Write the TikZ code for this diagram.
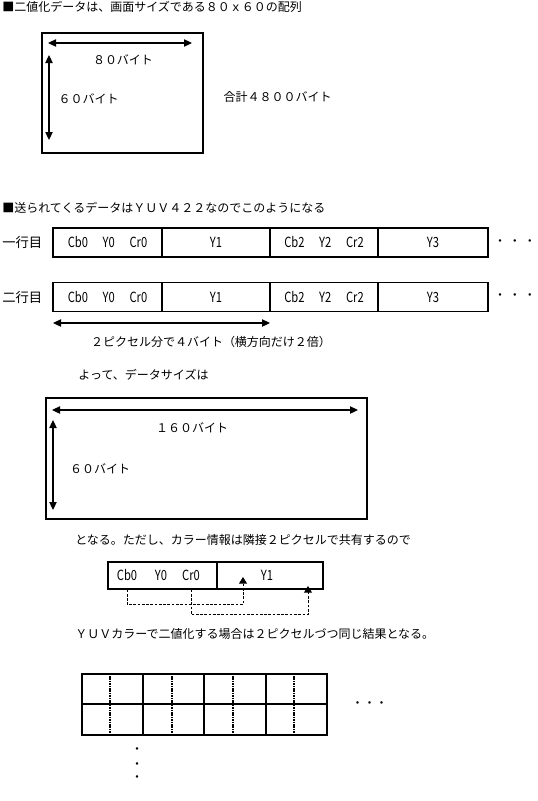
\documentclass[tikz,border=0pt]{standalone}
\usepackage{fontspec}
\setmainfont{Noto Sans CJK JP}
\newfontfamily\latf[FakeStretch=0.8]{Noto Sans CJK JP}
\usetikzlibrary{arrows.meta}
\newcommand\jpf{\fontsize{9pt}{10.5pt}\selectfont}
\newcommand\latsz{\latf\fontsize{10.5pt}{12pt}\selectfont}
\begin{document}
\begin{tikzpicture}[x=0.75pt,y=-0.75pt,
  txt/.style={inner sep=0pt, font=\jpf},
  lat/.style={inner sep=0pt, font=\latsz},
  box/.style={draw, line width=0.9pt, inner sep=0pt},
  cell/.style={draw, line width=0.9pt, inner sep=0pt, minimum height=29*0.75pt, font=\latsz},
  dim/.style={line width=0.8pt, {Triangle[width=5.5pt,length=6pt]}-{Triangle[width=5.5pt,length=6pt]}},
  link/.style={line width=0.7pt, dash pattern=on 2pt off 1.2pt, -{Triangle[width=6pt,length=5pt]}},
  half/.style={line width=0.9pt, dash pattern=on 1.2pt off 0.6pt}]
\useasboundingbox (0,0) rectangle (537,801);

% --- section 1
\node[txt, anchor=west] (t1) at (2,7) {■二値化データは、画面サイズである８０ｘ６０の配列};
\node[box, minimum width=161*0.75pt, minimum height=120*0.75pt] (b1) at (122.5,93) {};
\coordinate (h1a) at (48,43);
\coordinate (h1b) at (192,43);
\coordinate (v1a) at (49,55);
\coordinate (v1b) at (49,140);
\draw[dim] (h1a) -- (h1b);
\draw[dim] (v1a) -- (v1b);
\node[txt] (l80) at (123,60) {８０バイト};
\node[txt] (l60a) at (88.5,99) {６０バイト};
\node[txt] (tot) at (277.5,97) {合計４８００バイト};

% --- section 2
\node[txt, anchor=west] (t2) at (2,208) {■送られてくるデータはＹＵＶ４２２なのでこのようになる};
\foreach \k/\yy/\lab in {1/242.5/一行目, 2/297/二行目}{
  \node[txt, anchor=west, font=\fontsize{10pt}{12pt}\selectfont] (lab\k) at (2,\yy) {\lab};
  \node[cell, minimum width=109*0.75pt] (r\k a) at (107.5,\yy) {Cb0\hspace{11pt}Y0\hspace{11pt}Cr0};
  \node[cell, minimum width=108*0.75pt] (r\k b) at (216,\yy) {Y1};
  \node[cell, minimum width=108*0.75pt] (r\k c) at (324,\yy) {Cb2\hspace{11pt}Y2\hspace{11pt}Cr2};
  \node[cell, minimum width=110*0.75pt] (r\k d) at (433,\yy) {Y3};
  \node[txt] (r\k e) at (515,\yy) {・\hspace{2.2pt}・\hspace{2.2pt}・};
}
\coordinate (w1) at (53,323);
\coordinate (w2) at (270,323);
\draw[dim] (w1) -- (w2);
\node[txt] (note2) at (211,342) {２ピクセル分で４バイト（横方向だけ２倍）};

% --- section 3
\node[txt] (t3) at (143.5,375) {よって、データサイズは};
\node[box, minimum width=321*0.75pt, minimum height=121*0.75pt] (b3) at (206.5,458.5) {};
\coordinate (h3a) at (52,410);
\coordinate (h3b) at (358,410);
\coordinate (v3a) at (53,420);
\coordinate (v3b) at (53,510);
\draw[dim] (h3a) -- (h3b);
\draw[dim] (v3a) -- (v3b);
\node[txt] (l160) at (192,428) {１６０バイト};
\node[txt] (l60b) at (100,469) {６０バイト};

% --- section 4
\node[txt, anchor=west] (t4) at (75,540) {となる。ただし、カラー情報は隣接２ピクセルで共有するので};
\node[cell, minimum width=109*0.75pt, minimum height=27*0.75pt] (c4a) at (162.5,575.5) {};
\node[cell, minimum width=106*0.75pt, minimum height=27*0.75pt] (c4b) at (270,575.5) {};
\node[lat] (cb0) at (127,575) {Cb0};
\node[lat] (y0) at (161,575) {Y0};
\node[lat] (cr0) at (191,575) {Cr0};
\node[lat] (y1) at (267,575) {Y1};
\coordinate (tip1) at (243,577);
\coordinate (tip2) at (308,586);
\draw[link] (cb0 |- c4a.south) -- ++(0,15) -| (tip1);
\draw[link] (cr0 |- c4a.south) -- ++(0,25) -| (tip2);
\node[txt, anchor=west] (t5) at (75,634) {ＹＵＶカラーで二値化する場合は２ピクセルづつ同じ結果となる。};

% --- section 5
\foreach \xa/\xb/\xm in {82/143/110, 143/204/172, 204/266/233, 266/327/294}{
  \foreach \ya/\yb in {674/704, 704/735}{
    \draw[box] (\xa,\ya) rectangle (\xb,\yb);
  }
  \draw[half] (\xm,676) -- (\xm,733);
}
\node[txt] (gdots) at (369.5,705) {・・・};
\node[txt] (vd1) at (137,751) {・};
\node[txt] (vd2) at (137,766) {・};
\node[txt] (vd3) at (137,779) {・};
\end{tikzpicture}
\end{document}
